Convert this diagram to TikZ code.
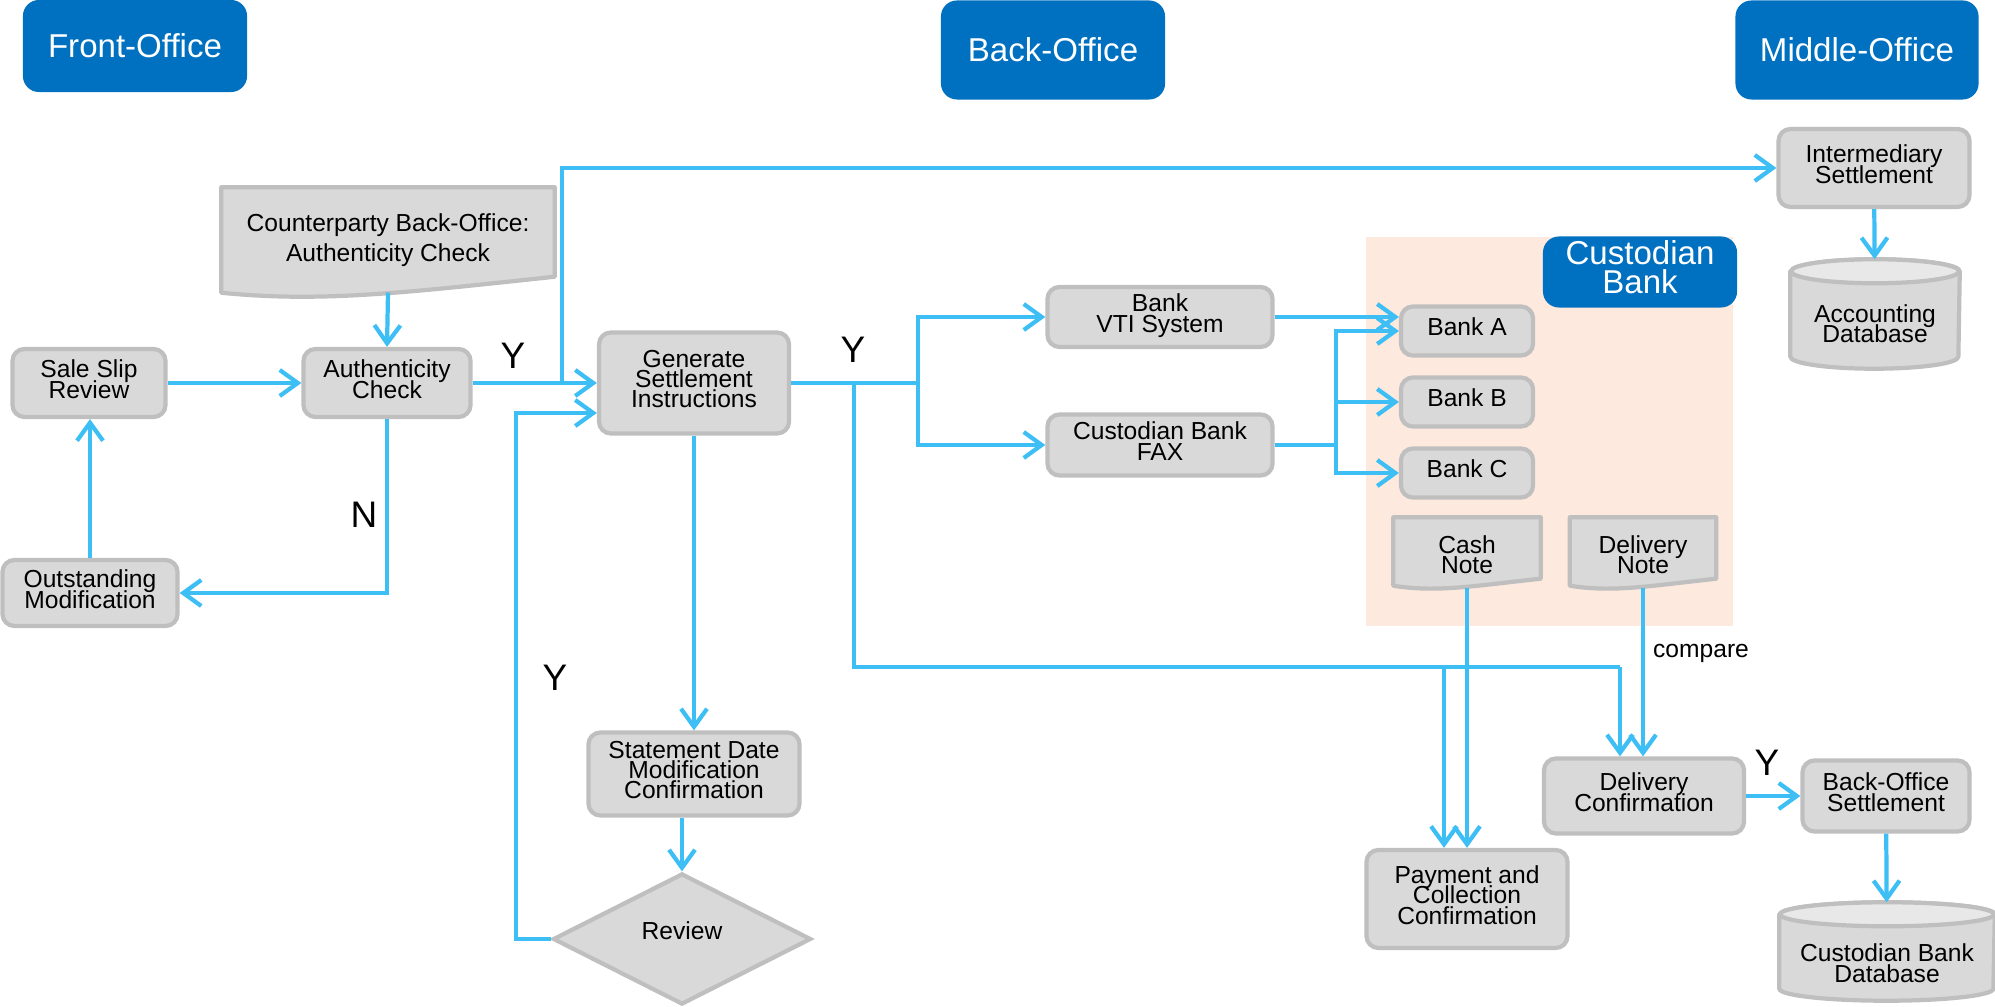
\documentclass[tikz,border=0pt]{standalone}
\usepackage{fontspec}
\setmainfont{Liberation Sans}
\usetikzlibrary{calc, arrows.meta, shapes.geometric}

\definecolor{flowblue}{RGB}{61,190,245}
\definecolor{headblue}{RGB}{0,112,192}
\definecolor{boxgray}{RGB}{217,217,217}
\definecolor{boxedge}{RGB}{191,191,191}
\definecolor{dbtop}{RGB}{232,232,232}
\definecolor{custbg}{RGB}{253,233,221}

\newcommand{\boxfont}{\fontsize{7}{5.8}\selectfont\lineskiplimit=-10pt\relax}
\newcommand{\docfont}{\fontsize{7}{8.5}\selectfont}
\newcommand{\headfont}{\fontsize{9.4}{8}\selectfont\lineskiplimit=-10pt\relax}
\newcommand{\yfont}{\fontsize{10.5}{12}\selectfont}

\pgfdeclarelayer{background}
\pgfsetlayers{background,main}

\begin{document}
\begin{tikzpicture}[x=0.01cm, y=-0.01cm,
  procbox/.style={draw=boxedge, fill=boxgray, line width=1.2pt, rounded corners=0.12cm,
    align=center, inner sep=1pt, text depth=0.08cm, font=\boxfont},
  headbox/.style={fill=headblue, text=white, rounded corners=0.16cm, align=center,
    inner sep=1pt, font=\headfont},
  docbox/.style={align=center, inner sep=1pt, font=\boxfont},
  dbbox/.style={align=center, inner sep=1pt, font=\boxfont},
  shapeline/.style={draw=boxedge, fill=boxgray, line width=1.2pt, line join=round},
  flow/.style={draw=flowblue, line width=1.2pt},
  arr/.style={flow, -{Straight Barb[length=1.8mm, width=2.6mm]}},
  yes/.style={font=\yfont, inner sep=0pt}]
  \useasboundingbox (0,0) rectangle (1995,1007);

  \node[headbox, minimum width=2.24cm, minimum height=0.92cm] (fo) at (135,46) {Front-Office};
  \node[headbox, minimum width=2.24cm, minimum height=0.99cm] (bo) at (1053,50) {Back-Office};
  \node[headbox, minimum width=2.43cm, minimum height=0.99cm] (mo) at (1857,50) {Middle-Office};

  \node[procbox, minimum width=1.53cm, minimum height=0.68cm] (sale) at (89,383) {Sale Slip\\Review};
  \node[procbox, minimum width=1.67cm, minimum height=0.68cm] (auth) at (387,383) {Authenticity\\Check};
  \node[docbox, font=\docfont, minimum width=3.32cm, minimum height=1.04cm] (cp) at (388,240) {Counterparty Back-Office:\\Authenticity Check};
  \node[procbox, minimum width=1.75cm, minimum height=0.66cm] (outst) at (90,593) {Outstanding\\Modification};
  \node[procbox, minimum width=1.90cm, minimum height=1.01cm] (gen) at (694,383) {Generate\\Settlement\\Instructions};
  \node[procbox, minimum width=2.11cm, minimum height=0.83cm] (stmt) at (694,774) {Statement Date\\Modification\\Confirmation};
  \node[diamond, aspect=2, draw=boxedge, fill=boxgray, line width=1.2pt, inner sep=0pt, text depth=0.17cm,
    minimum width=2.58cm, minimum height=1.31cm, font=\boxfont] (rev) at (682,939) {Review};
  \node[procbox, minimum width=2.25cm, minimum height=0.60cm] (vti) at (1160,317) {Bank\\VTI System};
  \node[procbox, minimum width=2.25cm, minimum height=0.61cm] (fax) at (1160,445) {Custodian Bank\\FAX};

  \node[headbox, text depth=0.1cm, minimum width=1.94cm, minimum height=0.71cm] (cbank) at (1640,272) {Custodian\\Bank};
  \node[procbox, minimum width=1.32cm, minimum height=0.49cm] (banka) at (1467,331) {Bank A};
  \node[procbox, minimum width=1.32cm, minimum height=0.49cm] (bankb) at (1467,402) {Bank B};
  \node[procbox, minimum width=1.32cm, minimum height=0.49cm] (bankc) at (1467,473) {Bank C};
  \node[docbox, minimum width=1.46cm, minimum height=0.74cm] (cash) at (1467,555) {Cash\\Note};
  \node[docbox, minimum width=1.45cm, minimum height=0.74cm] (dnote) at (1643,555) {Delivery\\Note};

  \node[procbox, minimum width=1.91cm, minimum height=0.78cm] (inter) at (1874,168) {Intermediary\\Settlement};
  \node[dbbox, minimum width=1.68cm, minimum height=1.28cm] (acdb) at (1875,324) {Accounting\\Database};
  \node[procbox, minimum width=2.00cm, minimum height=0.75cm] (dconf) at (1644,796) {Delivery\\Confirmation};
  \node[procbox, minimum width=2.01cm, minimum height=0.98cm] (pay) at (1467,899) {Payment and\\Collection\\Confirmation};
  \node[procbox, minimum width=1.67cm, minimum height=0.71cm] (bos) at (1886,796) {Back-Office\\Settlement};
  \node[dbbox, minimum width=2.14cm, minimum height=1.20cm] (cbdb) at (1887,963) {Custodian Bank\\Database};

  \node[yes] (ya) at (513,356) {Y};
  \node[yes] (yg) at (853,350) {Y};
  \node[yes] (na) at (364,515) {N};
  \node[yes] (yl) at (555,678) {Y};
  \node[yes] (yb) at (1767,763) {Y};
  \node[font=\boxfont, inner sep=0pt] (cmp) at (1701,653) {compare};

  \begin{pgfonlayer}{background}
    \fill[custbg] (1366,237) rectangle (1733,626);
    \foreach \d/\u/\v/\b in {cp/0.16cm/0.1cm/0cm, cash/0.07cm/0.07cm/0.07cm, dnote/0.07cm/0.07cm/0.07cm}
      \draw[shapeline] (\d.north west) -- (\d.north east) -- ([yshift=\u+\b]\d.south east)
        .. controls ([yshift=\b]$(\d.south west)!0.55!(\d.south east)$)
        and ([yshift=\b-\v]$(\d.south west)!0.3!(\d.south east)$) .. ([yshift=\b]\d.south west) -- cycle;
    \foreach \d/\r/\b in {acdb/0.84cm/0.2cm, cbdb/1.07cm/0.23cm} {
      \draw[shapeline] ([yshift=-0.12cm]\d.north west) -- ([yshift=0.12cm+\b]\d.south west)
        arc[start angle=180, end angle=360, x radius=\r, y radius=0.12cm]
        -- ([yshift=-0.12cm]\d.north east)
        arc[start angle=0, end angle=180, x radius=\r, y radius=0.12cm] -- cycle;
      \draw[shapeline, fill=dbtop] ([yshift=-0.12cm]\d.north) ellipse[x radius=\r, y radius=0.12cm];
    }
  \end{pgfonlayer}

  \coordinate (ja) at (562,383);
  \coordinate (jb) at (918,383);
  \coordinate (jc) at (854,383);
  \coordinate (jl) at (516,413);
  \coordinate (jf) at (1336,445);
  \coordinate (kp) at (1444,667);
  \coordinate (kd) at (1620,667);

  \draw[arr] (cp.south) -- (auth.north);
  \draw[arr] (sale) -- (auth);
  \draw[arr] (auth) -- (gen);
  \draw[arr] (ja) |- (inter);
  \draw[arr] (auth.south) |- (outst);
  \draw[arr] (outst.north) -- (outst.north |- sale.south);
  \draw[flow] (gen.east) -- (jb);
  \draw[arr] (jb) |- (vti);
  \draw[arr] (jb) |- (fax);
  \draw[flow] (jc) |- (kd);
  \draw[arr] (kd) -- (kd |- dconf.north);
  \draw[arr] (kp) -- (kp |- pay.north);
  \draw[arr] (gen) -- (stmt);
  \draw[arr] (rev.north |- stmt.south) -- (rev.north);
  \draw[arr] (rev.west) -| (jl) -- (jl -| gen.west);
  \draw[arr] (vti.east) -- (vti.east -| banka.west);
  \draw[flow] (fax.east) -- (jf);
  \draw[arr] (jf) |- (banka);
  \draw[arr] (jf) |- (bankb);
  \draw[arr] (jf) |- (bankc);
  \draw[arr] ([yshift=0.05cm]cash.south) -- (pay.north);
  \draw[arr] ([yshift=0.05cm]dnote.south) -- (dnote.south |- dconf.north);
  \draw[arr] (dconf) -- (bos);
  \draw[arr] (bos) -- (cbdb);
  \draw[arr] (inter) -- (acdb);
\end{tikzpicture}
\end{document}
